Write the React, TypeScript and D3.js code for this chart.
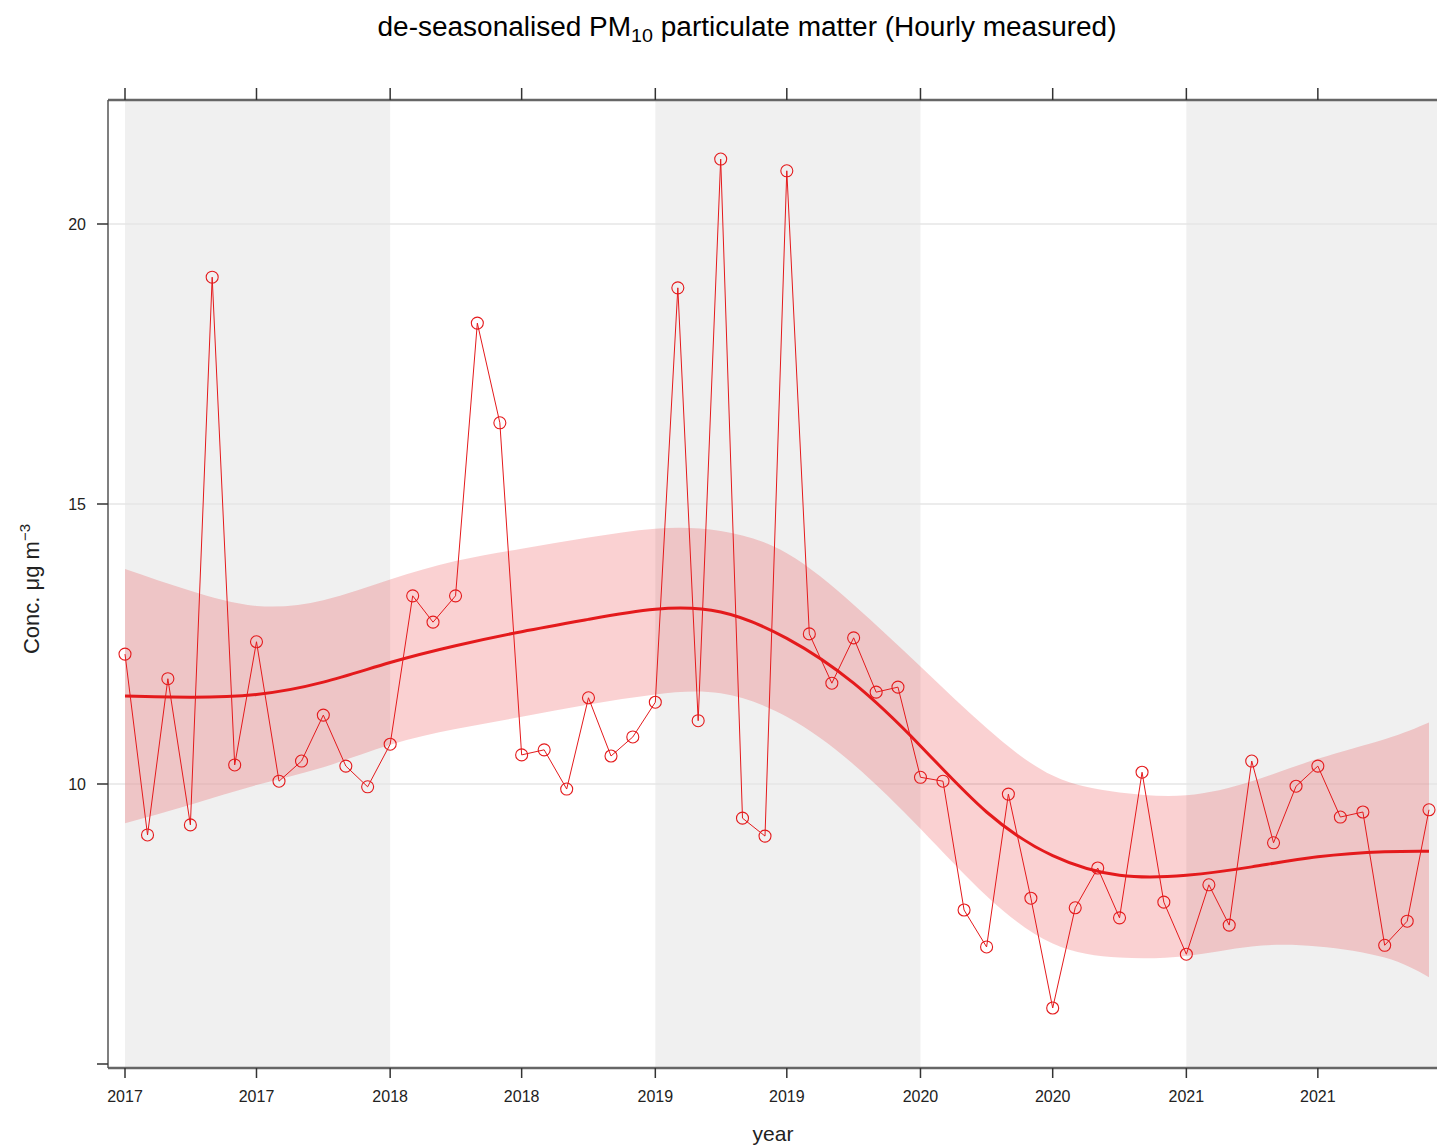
import React from "react";
import * as d3 from "d3";

// Monthly de-seasonalised PM10 means, Jan 2017 – Dec 2021
const monthStart = "2017-01";
const pm10Monthly = [
  12.32, 9.09, 11.88, 9.27, 19.05, 10.34, 12.54, 10.05, 10.41, 11.23, 10.32, 9.95,
  10.71, 13.36, 12.89, 13.36, 18.23, 16.45, 10.52, 10.61, 9.91, 11.54, 10.5, 10.84,
  11.46, 18.86, 11.13, 21.16, 9.39, 9.07, 20.95, 12.68, 11.8, 12.61, 11.64, 11.73,
  10.12, 10.05, 7.75, 7.09, 9.82, 7.96, 6.0, 7.79, 8.5, 7.61, 10.21, 7.89,
  6.96, 8.2, 7.48, 10.41, 8.95, 9.96, 10.32, 9.41, 9.5, 7.12, 7.55, 9.54,
];

// Smooth trend and its confidence band, sampled every quarter (plus the last month)
const trendMonths = [0, 3, 6, 9, 12, 15, 18, 21, 24, 27, 30, 33, 36, 39, 42, 45, 48, 51, 54, 57, 59];
const trendFit = [
  11.57, 11.55, 11.6, 11.82, 12.17, 12.47, 12.72, 12.94, 13.12, 13.07, 12.6,
  11.8, 10.68, 9.5, 8.72, 8.37, 8.37, 8.52, 8.7, 8.79, 8.8,
];
const trendUpper = [
  13.84, 13.45, 13.18, 13.28, 13.65, 13.98, 14.2, 14.4, 14.56, 14.52, 14.12,
  13.2, 12.1, 11.0, 10.15, 9.85, 9.8, 10.05, 10.45, 10.8, 11.1,
];
const trendLower = [
  9.3, 9.63, 9.98, 10.3, 10.7, 10.98, 11.2, 11.42, 11.6, 11.62, 11.2,
  10.35, 9.2, 8.0, 7.15, 6.9, 6.93, 7.1, 7.1, 6.9, 6.55,
];

const yTicks = [5, 10, 15, 20];
const gridValues = [10, 15, 20];
const shadedYears = [2017, 2019, 2021];

const W = 1437;
const H = 1148;
const left = 108;
const right = 1446;
const top = 100;
const bottom = 1068;
const red = "#e41a1c";

const parseMonth = d3.timeParse("%Y-%m");
const start = parseMonth(monthStart) as Date;
const monthDate = (m: number) => d3.timeMonth.offset(start, m);

export default function App() {
  const x = d3
    .scaleTime()
    .domain([start, monthDate(59)])
    .range([125, 1429]);
  const y = d3.scaleLinear().domain([5, 20]).range([1064, 224]);

  const obs = pm10Monthly.map((v, i) => ({ date: monthDate(i), v }));
  const band = trendMonths.map((m, i) => ({
    date: monthDate(m),
    fit: trendFit[i],
    lo: trendLower[i],
    hi: trendUpper[i],
  }));

  const lineObs = d3
    .line<{ date: Date; v: number }>()
    .x((d) => x(d.date))
    .y((d) => y(d.v));
  const lineFit = d3
    .line<typeof band[number]>()
    .x((d) => x(d.date))
    .y((d) => y(d.fit))
    .curve(d3.curveNatural);
  const areaBand = d3
    .area<typeof band[number]>()
    .x((d) => x(d.date))
    .y0((d) => y(d.lo))
    .y1((d) => y(d.hi))
    .curve(d3.curveNatural);

  const xTicks = d3.timeMonth.every(6)!.range(start, monthDate(60));
  const fmtYear = d3.timeFormat("%Y");

  return (
    <svg
      width={W}
      height={H}
      style={{ position: "absolute", left: 0, top: 0, background: "#fff" }}
      fontFamily="'Liberation Sans', Arial, sans-serif"
    >
      <defs>
        <clipPath id="plotClip">
          <rect x={left} y={top} width={right - left} height={bottom - top} />
        </clipPath>
      </defs>

      <text x={747} y={36} textAnchor="middle" fontSize={27} fill="#000" textLength={739} lengthAdjust="spacingAndGlyphs">
        de-seasonalised PM
        <tspan fontSize={19} dy={6}>10</tspan>
        <tspan dy={-6}> particulate matter (Hourly measured)</tspan>
      </text>

      <g clipPath="url(#plotClip)">
        {shadedYears.map((yr) => {
          const x0 = x(new Date(yr, 0, 1));
          const x1 = x(new Date(yr + 1, 0, 1));
          return (
            <rect key={yr} x={x0} y={top} width={x1 - x0} height={bottom - top} fill="#f0f0f0" />
          );
        })}
        {gridValues.map((g) => (
          <line key={g} x1={left} x2={right} y1={y(g)} y2={y(g)} stroke="#e6e6e6" strokeWidth={1.5} />
        ))}
        <path d={areaBand(band) ?? ""} fill={red} fillOpacity={0.2} />
        <path d={lineObs(obs) ?? ""} fill="none" stroke={red} strokeWidth={1} />
        {obs.map((d, i) => (
          <circle key={i} cx={x(d.date)} cy={y(d.v)} r={6} fill="none" stroke={red} strokeWidth={1.1} />
        ))}
        <path d={lineFit(band) ?? ""} fill="none" stroke={red} strokeWidth={3} />
      </g>

      {/* frame */}
      <line x1={left} x2={right} y1={top} y2={top} stroke="#666" strokeWidth={2.5} />
      <line x1={left} x2={right} y1={bottom} y2={bottom} stroke="#666" strokeWidth={2.5} />
      <line x1={left} x2={left} y1={top} y2={bottom} stroke="#555" strokeWidth={1.5} />

      {/* x axis ticks, top and bottom */}
      {xTicks.map((t, i) => (
        <g key={i}>
          <line x1={x(t)} x2={x(t)} y1={top} y2={top - 12} stroke="#333" strokeWidth={1.5} />
          <line x1={x(t)} x2={x(t)} y1={bottom} y2={bottom + 10} stroke="#333" strokeWidth={1.5} />
          <text x={x(t)} y={1102} textAnchor="middle" fontSize={16} fill="#222">
            {fmtYear(t)}
          </text>
        </g>
      ))}

      {/* y axis */}
      {yTicks.map((v) => (
        <g key={v}>
          <line x1={left} x2={left - 11} y1={y(v)} y2={y(v)} stroke="#333" strokeWidth={1.5} />
          {v !== 5 && (
            <text x={86} y={y(v) + 6} textAnchor="end" fontSize={16} fill="#222">
              {v}
            </text>
          )}
        </g>
      ))}

      <text x={773} y={1141} textAnchor="middle" fontSize={21} fill="#222">
        year
      </text>
      <text
        transform="translate(39,589) rotate(-90)"
        textAnchor="middle"
        fontSize={22}
        fill="#222"
      >
        Conc. μg m<tspan fontSize={15} dy={-9}>−3</tspan>
      </text>
    </svg>
  );
}
